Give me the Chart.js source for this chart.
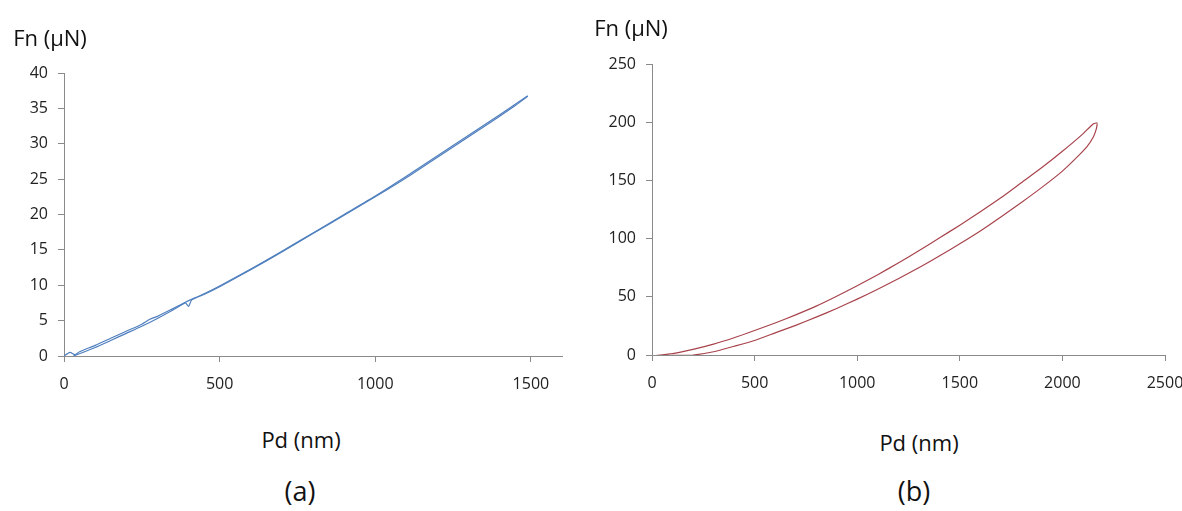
<!DOCTYPE html>
<html>
<head>
<meta charset="utf-8">
<script src="https://cdn.jsdelivr.net/npm/chart.js@4.4.1/dist/chart.umd.min.js"></script>
<style>
  body { margin: 0; background: #fff; overflow: hidden; }
  #wrap { position: relative; width: 1182px; height: 511px; overflow: hidden; font-family: "Open Sans", sans-serif; color: #111; }
  .box { position: absolute; top: 0; height: 420px; }
  .lbl { position: absolute; white-space: nowrap; transform: translate(-50%, -50%); }
</style>
</head>
<body>
<div id="wrap">
  <div class="box" style="left:0; width:590px;"><canvas id="chartA" width="590" height="420"></canvas></div>
  <div class="box" style="left:590px; width:640px;"><canvas id="chartB" width="640" height="420"></canvas></div>
  <div class="lbl" style="left:50px; top:37px; font-size:22px;">Fn (μN)</div>
  <div class="lbl" style="left:631px; top:27px; font-size:22px;">Fn (μN)</div>
  <div class="lbl" style="left:301px; top:439px; font-size:22px;">Pd (nm)</div>
  <div class="lbl" style="left:919px; top:442px; font-size:22px;">Pd (nm)</div>
  <div class="lbl" style="left:300px; top:490px; font-size:27px;">(a)</div>
  <div class="lbl" style="left:914px; top:490px; font-size:27px;">(b)</div>
</div>
<script>
// ---------------- data (a) ----------------
var aLoadX = [0, 10, 20, 35, 50, 100, 150, 200, 250, 276, 300, 350, 390, 450, 500, 600, 700, 800, 900, 1000, 1100, 1200, 1300, 1400, 1490];
var aLoadY = [0, 0.3, 0.5, 0.2, 0.6, 1.5, 2.5, 3.5, 4.5, 5.2, 5.6, 6.7, 7.6, 8.8, 9.9, 12.3, 14.8, 17.4, 20.0, 22.6, 25.4, 28.3, 31.2, 34.1, 36.8];
var aUnloadX = [1490, 1450, 1400, 1300, 1200, 1100, 1000, 900, 800, 700, 600, 500, 450, 410, 400, 390, 350, 300, 250, 200, 150, 100, 60, 30];
var aUnloadY = [36.7, 35.4, 33.9, 31.0, 28.1, 25.2, 22.5, 19.9, 17.3, 14.7, 12.2, 9.8, 8.7, 7.9, 7.0, 7.5, 6.5, 5.3, 4.2, 3.2, 2.2, 1.2, 0.5, 0];
var aXTicks = [0, 500, 1000, 1500];
var aYTicks = [0, 5, 10, 15, 20, 25, 30, 35, 40];

// ---------------- data (b) ----------------
var bLoadX = [20, 100, 200, 300, 400, 500, 600, 700, 800, 900, 1000, 1100, 1200, 1300, 1400, 1500, 1600, 1700, 1800, 1900, 2000, 2100, 2150, 2170];
var bLoadY = [-0.5, 1.2, 4.8, 9.3, 14.8, 21, 27.5, 34.5, 42, 50.5, 59.5, 69, 79, 89.5, 100.5, 111.5, 123, 135, 148, 161, 175, 190, 198.5, 199.5];
var bUnloadX = [2170, 2165, 2150, 2120, 2080, 2000, 1900, 1800, 1700, 1600, 1500, 1400, 1300, 1200, 1100, 1000, 900, 800, 700, 600, 500, 400, 300, 200, 100];
var bUnloadY = [199, 194, 187, 179, 171.5, 158, 144, 131, 118.5, 106.5, 95.5, 85, 75, 65.5, 56.5, 48, 40, 32.5, 25.5, 19, 12.5, 7.5, 2.8, 0, -0.3];
var bXTicks = [0, 500, 1000, 1500, 2000, 2500];
var bYTicks = [0, 50, 100, 150, 200, 250];

var blue = '#4f7fbe';
var red = '#a8434c';
var axisGrey = '#8a8a8a';
var tickFont = {family: 'Open Sans', size: 16};

function pts(xs, ys) {
  return xs.map(function (x, i) { return {x: x, y: ys[i]}; });
}

function makeChart(id, sets, color, xMax, yMax, xTicks, yTicks, area) {
  var ctx = document.getElementById(id).getContext('2d');
  return new Chart(ctx, {
    type: 'scatter',
    data: {
      datasets: sets.map(function (s) {
        return {
          data: s,
          showLine: true,
          borderColor: color,
          borderWidth: 1.2,
          pointRadius: 0,
          tension: 0.2,
          fill: false
        };
      })
    },
    options: {
      responsive: false,
      animation: false,
      layout: {padding: {top: area.top, right: area.right, left: 0, bottom: 0}},
      plugins: {legend: {display: false}, tooltip: {enabled: false}},
      scales: {
        x: {
          type: 'linear', min: 0, max: xMax,
          afterBuildTicks: function (scale) {
            scale.ticks = xTicks.map(function (v) { return {value: v}; });
          },
          afterFit: function (scale) { scale.height = area.xh; },
          grid: {drawOnChartArea: false, drawTicks: true, tickLength: 6, color: axisGrey},
          border: {display: true, color: axisGrey, width: 1},
          ticks: {font: tickFont, color: '#222', padding: 13, maxRotation: 0,
                  callback: function (v) { return String(v); }}
        },
        y: {
          type: 'linear', min: 0, max: yMax,
          afterBuildTicks: function (scale) {
            scale.ticks = yTicks.map(function (v) { return {value: v}; });
          },
          afterFit: function (scale) { scale.width = area.yw; },
          grid: {drawOnChartArea: false, drawTicks: true, tickLength: 6, color: axisGrey},
          border: {display: true, color: axisGrey, width: 1},
          ticks: {font: tickFont, color: '#222', padding: 10,
                  callback: function (v) { return String(v); }}
        }
      }
    }
  });
}

makeChart('chartA', [pts(aLoadX, aLoadY), pts(aUnloadX, aUnloadY)], blue, 1600, 40, aXTicks, aYTicks,
  {top: 73, right: 28, yw: 64, xh: 64});
makeChart('chartB', [pts(bLoadX, bLoadY), pts(bUnloadX, bUnloadY)], red, 2500, 250, bXTicks, bYTicks,
  {top: 64, right: 65, yw: 62, xh: 65});
</script>
</body>
</html>
